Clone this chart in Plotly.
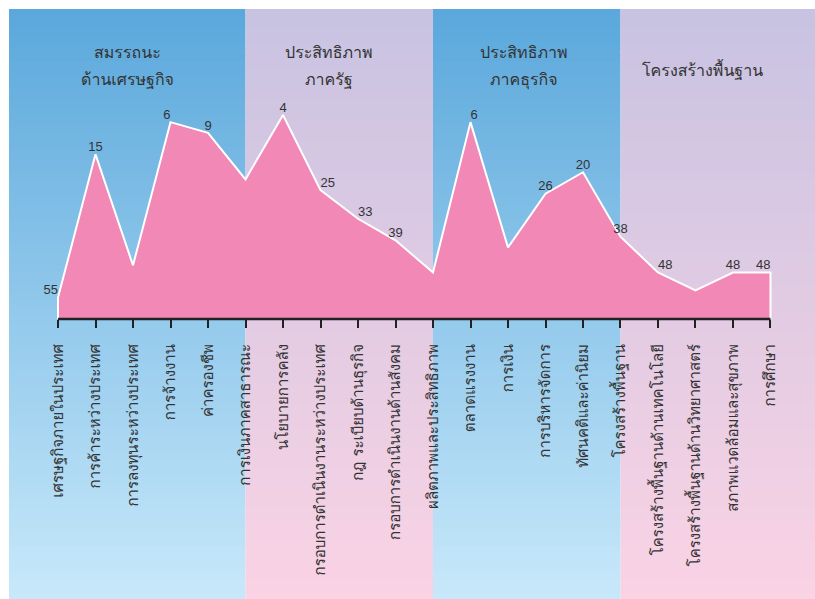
import plotly.graph_objects as go

# ---------------- data ----------------
categories = [
    "เศรษฐกิจภายในประเทศ", "การค้าระหว่างประเทศ", "การลงทุนระหว่างประเทศ",
    "การจ้างงาน", "ค่าครองชีพ",
    "การเงินภาคสาธารณะ", "นโยบายการคลัง", "กรอบการดำเนินงานระหว่างประเทศ",
    "กฎ ระเบียบด้านธุรกิจ", "กรอบการดำเนินงานด้านสังคม",
    "ผลิตภาพและประสิทธิภาพ", "ตลาดแรงงาน", "การเงิน", "การบริหารจัดการ",
    "ทัศนคติและค่านิยม",
    "โครงสร้างพื้นฐาน", "โครงสร้างพื้นฐานด้านเทคโนโลยี",
    "โครงสร้างพื้นฐานด้านวิทยาศาสตร์", "สภาพแวดล้อมและสุขภาพ", "การศึกษา",
]
ranks = [55, 15, 46, 6, 9, 22, 4, 25, 33, 39, 48, 6, 41, 26, 20, 38, 48, 53, 48, 48]
rank_labels = ["55", "15", "", "6", "9", "", "4", "25", "33", "39",
               "", "6", "", "26", "20", "38", "48", "", "48", "48"]
group_titles = ["สมรรถนะ<br>ด้านเศรษฐกิจ", "ประสิทธิภาพ<br>ภาครัฐ",
                "ประสิทธิภาพ<br>ภาคธุรกิจ", "โครงสร้างพื้นฐาน"]
group_sizes = [5, 5, 5, 5]

# ---------------- styling ----------------
W, H = 815, 599
X_RANGE = [-1.307, 20.187]
Y_RANGE = [139.2, -25.6]     # reversed: rank 1 at top
AXIS_RANK = 61               # baseline rank where the x axis sits
BLUE = ((91, 168, 220), (199, 232, 250))
LILAC = ((200, 195, 226), (250, 211, 228))
THAI_FONT = "Garuda, Loma, Tahoma, 'Noto Sans Thai', sans-serif"
label_pos = ["top left", "top center", "top center", "top left", "top center",
             "top center", "top center", "top right", "top right", "top center",
             "top center", "top right", "top center", "top center", "top center",
             "top center", "top right", "top center", "top center", "top left"]

def lerp(c1, c2, t):
    return "rgb(%d,%d,%d)" % tuple(round(a + (b - a) * t) for a, b in zip(c1, c2))

axis_pos = (AXIS_RANK - Y_RANGE[0]) / (Y_RANGE[1] - Y_RANGE[0])

shapes = []
annotations = []
n_strips = 90
start = 0
for gi, size in enumerate(group_sizes):
    x0 = X_RANGE[0] if gi == 0 else start
    x1 = X_RANGE[1] if gi == len(group_sizes) - 1 else start + size
    pal = BLUE if gi % 2 == 0 else LILAC
    for k in range(n_strips):
        ya = 1 - k / n_strips
        yb = 1 - (k + 1) / n_strips - 0.002
        shapes.append(dict(type="rect", xref="x", yref="paper", x0=x0, x1=x1,
                           y0=max(yb, 0), y1=ya, line_width=0,
                           fillcolor=lerp(pal[0], pal[1], k / (n_strips - 1)),
                           layer="below"))
    start += size

title_x = [1.84, 7.23, 12.43, 17.2]
for t, xx in zip(group_titles, title_x):
    lines = t.split("<br>")
    ys = [0.927, 0.8797] if len(lines) == 2 else [0.8966]
    for line, yy in zip(lines, ys):
        annotations.append(dict(x=xx, y=yy, xref="x", yref="paper", text=line,
                                showarrow=False, align="center", yanchor="middle",
                                font=dict(family=THAI_FONT, size=16, color="#333333")))

# axis line spanning first to last category
shapes.append(dict(type="line", xref="x", yref="paper", x0=0, x1=len(categories) - 1,
                   y0=axis_pos, y1=axis_pos, line=dict(color="#222222", width=2.5),
                   layer="above"))

idx = list(range(len(categories)))
poly_x = [0] + idx + [len(categories) - 1]
poly_y = [AXIS_RANK] + ranks + [AXIS_RANK]

fig = go.Figure()
fig.add_trace(go.Scatter(
    x=poly_x, y=poly_y, mode="lines", fill="toself",
    fillcolor="rgb(241,136,181)", line=dict(color="white", width=2),
    hoverinfo="skip", showlegend=False))
fig.add_trace(go.Scatter(
    x=idx, y=ranks, mode="text", text=rank_labels, textposition=label_pos,
    textfont=dict(family="Liberation Sans, Arial, sans-serif", size=13, color="#333333"),
    showlegend=False, cliponaxis=False))

fig.update_layout(
    width=W, height=H,
    margin=dict(l=9, r=0, t=9, b=0, pad=0),
    paper_bgcolor="white", plot_bgcolor="white",
    shapes=shapes, annotations=annotations,
    xaxis=dict(range=X_RANGE, tickmode="array", tickvals=idx, ticktext=categories,
               tickangle=-90, ticks="outside", ticklen=8, tickwidth=2,
               tickcolor="#222222", showgrid=False, zeroline=False, showline=False,
               anchor="free", position=axis_pos, automargin=False,
               ticklabelstandoff=10,
               tickfont=dict(family=THAI_FONT, size=15, color="#333333")),
    yaxis=dict(range=Y_RANGE, visible=False, showgrid=False, zeroline=False),
)

fig.write_html("out.html")
